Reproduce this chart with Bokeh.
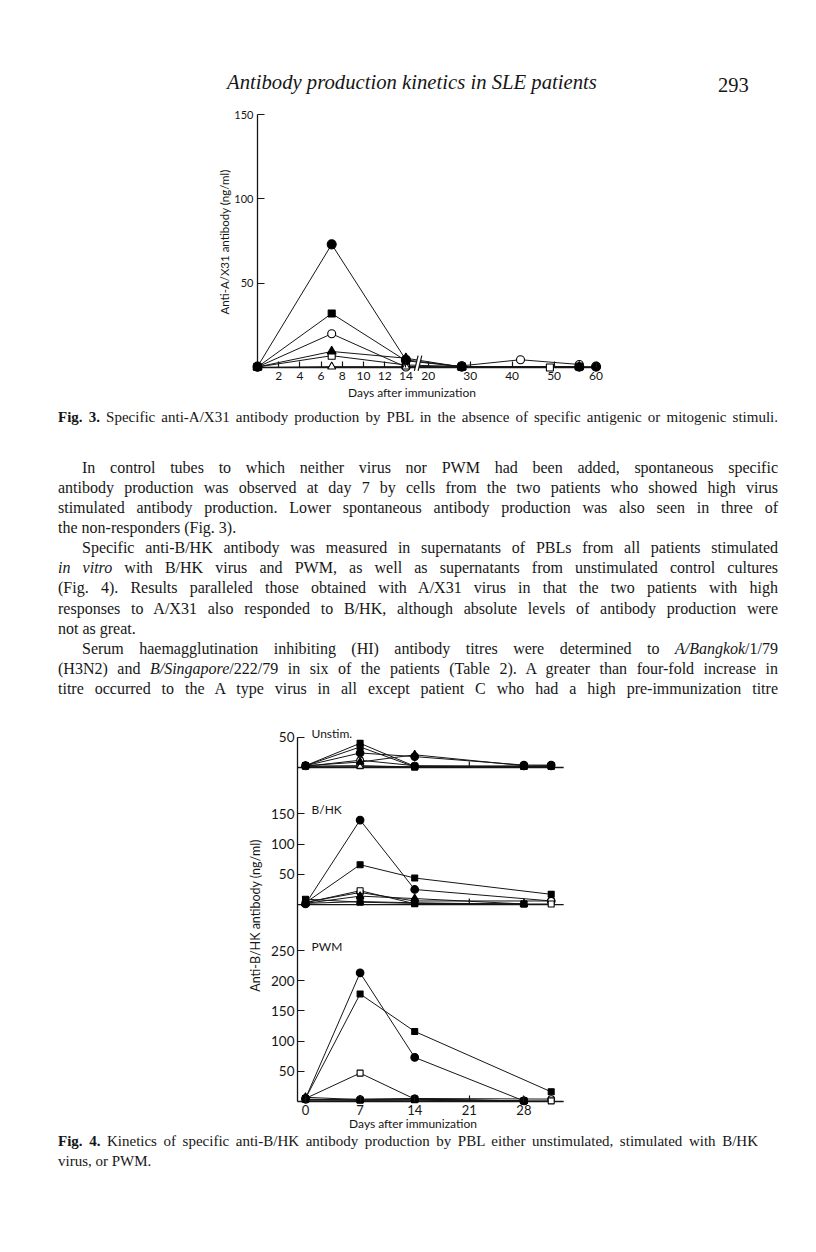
from bokeh.plotting import figure
from bokeh.models import Range1d, FixedTicker, Div
from bokeh.layouts import column
from bokeh.embed import file_html
from bokeh.resources import INLINE
from bokeh.core.properties import value

# ======================= DATA =======================
# ---- Fig. 3 (anti-A/X31, unstimulated) ----
F3_X_TICK_DAYS = [2, 4, 6, 8, 10, 12, 14, 20, 30, 40, 50, 60]
F3_Y_TICKS = [50, 100, 150]
F3_MARKERS = ["fcircle", "fsquare", "ocircle", "ftriangle", "osquare", "otriangle"]
F3_DAYS = [
    [0, 7, 14, 28, 56, 60],
    [0, 7, 14, 28, 56],
    [0, 7, 14, 28, 42, 56],
    [0, 7, 14, 28, 56],
    [0, 7, 14, 28, 49],
    [0, 7, 14, 28],
]
F3_VALS = [
    [0.5, 73, 4.5, 0.5, 0.5, 0.5],
    [0.3, 32, 4, 0.5, 0.5],
    [0.3, 20, 0.3, 1, 4.6, 1.8],
    [0.3, 9.5, 5.5, 0.3, 0.5],
    [0.3, 7, 1.5, 0.5, 0],
    [0, 0.5, 0.5, 0.3],
]

# ---- Fig. 4 (anti-B/HK) ----
F4_X_TICKS = [0, 7, 14, 21, 28]
F4_PANELS = ["Unstim.", "B/HK", "PWM"]
F4_PANEL_YTICKS = [[50], [50, 100, 150], [50, 100, 150, 200, 250]]
F4_MARKERS = ["fcircle", "fsquare", "ocircle", "ftriangle", "osquare", "otriangle", "fsquare"]

UNSTIM_DAYS = [
    [0, 7, 14, 28, 31.5],
    [0, 7, 14, 28, 31.5],
    [0, 7, 14, 28, 31.5],
    [0, 7, 14, 28],
    [0, 7, 14, 28, 31.5],
    [0, 7, 14, 28],
    [0, 7, 14, 28, 31.5],
]
UNSTIM_VALS = [
    [3, 24, 18, 4, 4],
    [3, 40, 2, 2, 3],
    [2, 12, 3, 2, 2],
    [3, 9, 21, 3],
    [2, 3, 1, 2, 2],
    [2, 2, 1, 1],
    [3, 34, 1, 2, 2],
]
BHK_DAYS = [
    [0, 7, 14, 31.5],
    [0, 7, 14, 31.5],
    [0, 7, 14, 31.5],
    [0, 7, 14, 28],
    [0, 7, 14, 28, 31.5],
    [0, 7, 14, 28],
    [0, 7, 14, 28],
]
BHK_VALS = [
    [1, 140, 25, 6],
    [3, 66, 44, 17],
    [4, 20, 6, 6],
    [2, 14, 10, 1],
    [3, 23, 1.5, 1, 1],
    [2, 5, 3, 0.5],
    [9, 4, 2, 1],
]
PWM_DAYS = [
    [0, 7, 14, 28],
    [0, 7, 14, 31.5],
    [0, 7, 14, 31.5],
    [0, 7, 14, 28],
    [0, 7, 14, 28, 31.5],
    [0, 7, 14, 28],
    [0, 7, 14, 28],
]
PWM_VALS = [
    [5, 213, 73, 1],
    [5, 178, 116, 16],
    [3, 4, 5, 4],
    [7, 3, 4, 1],
    [5, 47, 4, 1, 1],
    [2, 2, 2, 0.5],
    [4, 2, 3, 1],
]

# ======================= STYLE / LAYOUT =======================
INK = "#161616"
SANS = "Lato"
SERIF = "'Liberation Serif', 'Times New Roman', serif"

MARKER_STYLE = {
    "fcircle": ("circle", "black", 9),
    "fsquare": ("square", "black", 7),
    "ocircle": ("circle", "white", 8),
    "ftriangle": ("triangle", "black", 9),
    "osquare": ("square", "white", 7),
    "otriangle": ("triangle", "white", 8),
}

PAGE_W = 816
HEADER_TOP, HEADER_BOTTOM = 0, 100
F3_BOTTOM = 384
TEXT_BOTTOM = 712
F4_BOTTOM = 1116
PAGE_BOTTOM = 1250
TXT_DY = 2  # font-metric correction for serif lines

# common frame (columns align plot frames horizontally)
FRAME_L, FRAME_R = 200, 615

# Fig.3 geometry (page pixels)
F3_ORIGIN_X, F3_PX_PER_DAY = 257, 10.6
F3_ZERO_Y, F3_TOP_Y = 367, 114
F3_FRAME_T, F3_FRAME_B = 100, 383
SEG2_START, SEG2_SCALE = 16.1, 0.396
F3_LINE_END_DAY = 61
BREAK_XS = (14.8, 15.15, 15.5)
BREAK_YS = (-2.0, 7.0)


def f3x(day):
    return day if day <= 14 else SEG2_START + (day - 20) * SEG2_SCALE


# Fig.4 geometry (page pixels)
F4_DAY0_X, F4_PX_PER_DAY, F4_YAXIS_X = 305, 7.8, 297
F4_BASE_Y = [767, 904, 1101]
F4_PX_PER_UNIT = 0.604
F4_FRAME_T, F4_FRAME_B = 714, 1116
F4_LINE_END_DAY = 33.1
F4_LABEL_DAY = 0.77


def style_axis(ax, label_size):
    ax.axis_line_color = None
    ax.major_tick_line_color = INK
    ax.major_tick_line_width = 1.2
    ax.minor_tick_line_color = None
    ax.major_tick_out = 0
    ax.major_label_text_font = SANS
    ax.major_label_text_font_size = label_size
    ax.major_label_text_color = INK
    ax.axis_label_text_font = SANS
    ax.axis_label_text_font_style = "normal"
    ax.axis_label_text_color = INK


def draw_markers(p, xs, ys, kind, scale=1.0):
    marker, fill, size = MARKER_STYLE[kind]
    p.scatter(xs, ys, marker=marker, size=size * scale, fill_color=fill,
              line_color="black", line_width=1.1)


def base_fig(height, xr, yr, top, bottom):
    p = figure(width=PAGE_W, height=height, x_range=xr, y_range=yr,
               min_border_left=FRAME_L, min_border_right=PAGE_W - FRAME_R,
               min_border_top=top, min_border_bottom=bottom,
               output_backend="svg", toolbar_location=None)
    p.outline_line_color = None
    p.grid.visible = False
    p.background_fill_color = "white"
    p.border_fill_color = "white"
    return p


# ======================= FIG. 3 =======================
f3_ppu = (F3_ZERO_Y - F3_TOP_Y) / 150.0
p3 = base_fig(
    F3_BOTTOM - HEADER_BOTTOM,
    Range1d((FRAME_L - F3_ORIGIN_X) / F3_PX_PER_DAY, (FRAME_R - F3_ORIGIN_X) / F3_PX_PER_DAY),
    Range1d(-(F3_FRAME_B - F3_ZERO_Y) / f3_ppu, (F3_ZERO_Y - F3_FRAME_T) / f3_ppu),
    F3_FRAME_T - HEADER_BOTTOM, F3_BOTTOM - F3_FRAME_B)

xa3 = p3.xaxis[0]
style_axis(xa3, "12px")
xa3.fixed_location = 0
xt3 = [round(f3x(d), 4) for d in F3_X_TICK_DAYS]
xa3.ticker = FixedTicker(ticks=xt3, minor_ticks=[])
xa3.major_label_overrides = {t: str(d) for t, d in zip(xt3, F3_X_TICK_DAYS)}
xa3.major_tick_in = 6
xa3.major_label_standoff = 4

ya3 = p3.yaxis[0]
style_axis(ya3, "11px")
ya3.fixed_location = 0
ya3.ticker = FixedTicker(ticks=F3_Y_TICKS, minor_ticks=[])
ya3.major_tick_in = 7
ya3.major_label_standoff = 4
ya3.axis_label = "Anti-A/X31 antibody (ng/ml)"
ya3.axis_label_text_font_size = "11.5px"
ya3.axis_label_standoff = 0

# axis lines
p3.segment(x0=[0, 0], y0=[0, 0], x1=[0, f3x(F3_LINE_END_DAY)], y1=[max(F3_Y_TICKS), 0],
           line_color=INK, line_width=1.3)

# data lines
for days, vals in zip(F3_DAYS, F3_VALS):
    p3.line([f3x(d) for d in days], vals, line_color=INK, line_width=1.0)

# axis break
bx0, bx1, bx2 = BREAK_XS
by0, by1 = BREAK_YS
p3.patch([bx0, bx1, bx2, bx1], [by0, by1, by1, by0], fill_color="white", line_color=None)
p3.segment(x0=[bx0, bx1], y0=[by0, by0], x1=[bx1, bx2], y1=[by1, by1], line_color=INK, line_width=1.2)

# markers
for i in [0, 2, 4, 5, 3, 1]:
    draw_markers(p3, [f3x(d) for d in F3_DAYS[i]], F3_VALS[i], F3_MARKERS[i])

# ======================= FIG. 4 =======================
offsets = [round((F4_BASE_Y[-1] - b) / F4_PX_PER_UNIT) for b in F4_BASE_Y]
yax = (F4_YAXIS_X - F4_DAY0_X) / F4_PX_PER_DAY
p4 = base_fig(
    F4_BOTTOM - TEXT_BOTTOM,
    Range1d((FRAME_L - F4_DAY0_X) / F4_PX_PER_DAY, (FRAME_R - F4_DAY0_X) / F4_PX_PER_DAY),
    Range1d(-(F4_FRAME_B - F4_BASE_Y[-1]) / F4_PX_PER_UNIT, (F4_BASE_Y[-1] - F4_FRAME_T) / F4_PX_PER_UNIT),
    F4_FRAME_T - TEXT_BOTTOM, F4_BOTTOM - F4_FRAME_B)

xa4 = p4.xaxis[0]
style_axis(xa4, "13px")
xa4.fixed_location = 0
xa4.ticker = FixedTicker(ticks=F4_X_TICKS, minor_ticks=[])
xa4.major_tick_in = 6
xa4.major_label_standoff = 3

ya4 = p4.yaxis[0]
style_axis(ya4, "13.5px")
ya4.fixed_location = yax
yt4, ylab4 = [], {}
for off, tl in zip(offsets, F4_PANEL_YTICKS):
    for v in tl:
        yt4.append(off + v)
        ylab4[off + v] = str(v)
ya4.ticker = FixedTicker(ticks=yt4, minor_ticks=[])
ya4.major_label_overrides = ylab4
ya4.major_tick_in = 7
ya4.major_label_standoff = 3
ya4.axis_label = "Anti-B/HK antibody (ng/ml)"
ya4.axis_label_text_font_size = "12.5px"
ya4.axis_label_standoff = 5

# axis line + panel baselines + baseline ticks
top_tick = offsets[0] + max(F4_PANEL_YTICKS[0])
p4.segment(x0=[yax], y0=[0], x1=[yax], y1=[top_tick], line_color=INK, line_width=1.3)
p4.segment(x0=[yax] * len(offsets), y0=offsets, x1=[F4_LINE_END_DAY] * len(offsets), y1=offsets,
           line_color=INK, line_width=1.3)
tick_units = 6 / F4_PX_PER_UNIT
tx, ty0, ty1 = [], [], []
for off in offsets[:-1]:
    for d in F4_X_TICKS:
        tx.append(d)
        ty0.append(off)
        ty1.append(off + tick_units)
p4.segment(x0=tx, y0=ty0, x1=tx, y1=ty1, line_color=INK, line_width=1.2)

# panel labels
p4.text(x=[F4_LABEL_DAY] * len(F4_PANELS),
        y=[off + max(tl) + 7 for off, tl in zip(offsets, F4_PANEL_YTICKS)],
        text=F4_PANELS, text_font=value(SANS), text_font_size="12px",
        text_color=INK, text_baseline="middle", text_align="left")

panels = [(UNSTIM_DAYS, UNSTIM_VALS), (BHK_DAYS, BHK_VALS), (PWM_DAYS, PWM_VALS)]
for off, (dl, vl) in zip(offsets, panels):
    for days, vals in zip(dl, vl):
        p4.line(days, [off + v for v in vals], line_color=INK, line_width=1.0)
for off, (dl, vl) in zip(offsets, panels):
    for i in [0, 2, 4, 5, 6, 1, 3]:
        draw_markers(p4, dl[i], [off + v for v in vl[i]], F4_MARKERS[i], scale=0.85)


# ======================= TEXT =======================
def tline(html, left, top, width=None, size=16, lh=20, justify=False, italic=False,
          family=SERIF, align="left"):
    st = ["position:absolute", f"left:{left}px", f"top:{top:.1f}px", f"font-family:{family}",
          f"font-size:{size}px", f"line-height:{lh}px", "white-space:nowrap", f"color:{INK}"]
    if width:
        st.append(f"width:{width}px")
    if justify:
        st += ["text-align:justify", "text-align-last:justify"]
    elif align != "left":
        st.append(f"text-align:{align}")
    if italic:
        st.append("font-style:italic")
    return f'<div style="{";".join(st)}">{html}</div>'


def box(inner, h):
    return f'<div style="position:relative;width:{PAGE_W}px;height:{h}px;background:white">{inner}</div>'


HEADER_TEXT = "Antibody production kinetics in SLE patients"
PAGE_NO = "293"
header_html = box(
    tline(HEADER_TEXT, 227, 82 - 14.2 - HEADER_TOP + TXT_DY, size=20.7, lh=24, italic=True)
    + tline(PAGE_NO, 718, 90 - 18.8 - HEADER_TOP + TXT_DY, size=20.5, lh=24),
    HEADER_BOTTOM - HEADER_TOP)

X_TITLE = "Days after immunization"
FIG3_CAPTION = ("<b>Fig. 3.</b> Specific anti-A/X31 antibody production by PBL in the absence of "
                "specific antigenic or mitogenic stimuli.")
BODY_LINES = [
    ("In control tubes to which neither virus nor PWM had been added, spontaneous specific", True, True),
    ("antibody production was observed at day 7 by cells from the two patients who showed high virus", False, True),
    ("stimulated antibody production. Lower spontaneous antibody production was also seen in three of", False, True),
    ("the non-responders (Fig. 3).", False, False),
    ("Specific anti-B/HK antibody was measured in supernatants of PBLs from all patients stimulated", True, True),
    ("<i>in vitro</i> with B/HK virus and PWM, as well as supernatants from unstimulated control cultures", False, True),
    ("(Fig. 4). Results paralleled those obtained with A/X31 virus in that the two patients with high", False, True),
    ("responses to A/X31 also responded to B/HK, although absolute levels of antibody production were", False, True),
    ("not as great.", False, False),
    ("Serum haemagglutination inhibiting (HI) antibody titres were determined to <i>A/Bangkok</i>/1/79", True, True),
    ("(H3N2) and <i>B/Singapore</i>/222/79 in six of the patients (Table 2). A greater than four-fold increase in", False, True),
    ("titre occurred to the A type virus in all except patient C who had a high pre-immunization titre", False, True),
]
TEXT_LEFT, TEXT_W, INDENT = 58, 720, 24

inner = tline(X_TITLE, 312, 394 - 8.6 + 1 - F3_BOTTOM, width=200, size=12, lh=14, family=SANS, align="center")
inner += tline(FIG3_CAPTION, TEXT_LEFT, 417 - 10.6 - F3_BOTTOM + TXT_DY, width=TEXT_W, size=15, lh=18, justify=True)
for i, (txt, indent, just) in enumerate(BODY_LINES):
    c = 467.5 + 20.1 * i
    left = TEXT_LEFT + (INDENT if indent else 0)
    w = TEXT_W - (INDENT if indent else 0)
    inner += tline(txt, left, c - 11.7 - F3_BOTTOM + TXT_DY, width=w, size=16, lh=20, justify=just)
text_html = box(inner, TEXT_BOTTOM - F3_BOTTOM)

FIG4_CAPTION_1 = ("<b>Fig. 4.</b> Kinetics of specific anti-B/HK antibody production by PBL either "
                  "unstimulated, stimulated with B/HK")
FIG4_CAPTION_2 = "virus, or PWM."
inner = tline(X_TITLE, 313, 1125 - 8.6 + 1 - F4_BOTTOM, width=200, size=12, lh=14, family=SANS, align="center")
inner += tline(FIG4_CAPTION_1, TEXT_LEFT, 1141 - 10.6 - F4_BOTTOM + TXT_DY, width=700, size=15, lh=18, justify=True)
inner += tline(FIG4_CAPTION_2, TEXT_LEFT, 1161 - 10.6 - F4_BOTTOM + TXT_DY, size=15, lh=18)
cap_html = box(inner, PAGE_BOTTOM - F4_BOTTOM)

header = Div(text=header_html, width=PAGE_W, height=HEADER_BOTTOM - HEADER_TOP, margin=(0, 0, 0, 0))
body = Div(text=text_html, width=PAGE_W, height=TEXT_BOTTOM - F3_BOTTOM, margin=(0, 0, 0, 0))
caption = Div(text=cap_html, width=PAGE_W, height=PAGE_BOTTOM - F4_BOTTOM, margin=(0, 0, 0, 0))

layout = column(header, p3, body, p4, caption, spacing=0)

open("out.html", "w").write(file_html(layout, INLINE))
